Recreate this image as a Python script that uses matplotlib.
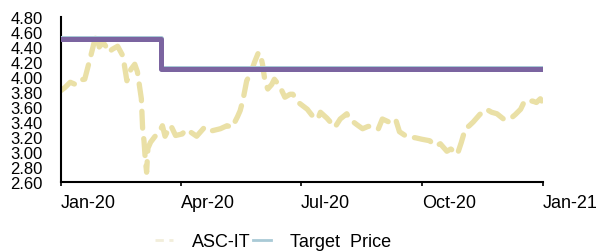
import numpy as np
import pandas as pd
import matplotlib
matplotlib.use("Agg")
import matplotlib.pyplot as plt
import matplotlib.dates as mdates
import matplotlib.transforms as mtransforms
from matplotlib.lines import Line2D

plt.rcParams['font.family'] = ['Liberation Sans', 'DejaVu Sans']

# prezzo ASC-IT (giorno dell'anno, valore)
price_days = [0, 3, 7, 11, 14, 18, 22, 25, 27, 29, 32, 34, 36, 39, 43, 47, 50, 53, 56, 58,
              61, 62, 63, 64, 65, 66, 68, 71, 75, 77, 79, 83, 84, 87, 92, 95, 98, 103, 109,
              114, 121, 126, 130, 134, 136, 138, 141, 144, 147, 150, 152, 153, 155, 157,
              160, 162, 166, 170, 174, 176, 181, 187, 191, 195, 197, 202, 208, 212, 217,
              219, 225, 229, 233, 237, 241, 244, 249, 254, 257, 263, 269, 274, 280, 283,
              285, 288, 293, 296, 301, 304, 307, 310, 313, 318, 323, 327, 331, 336, 341,
              345, 349, 352, 355, 358, 361, 364, 365]
price_vals = [3.82, 3.86, 3.93, 3.90, 3.96, 3.97, 4.24, 4.45, 4.57, 4.40, 4.46, 4.41, 4.33,
              4.37, 4.41, 4.28, 3.95, 4.10, 4.17, 4.07, 3.71, 3.30, 3.15, 2.90, 2.73, 3.05,
              3.13, 3.20, 3.28, 3.35, 3.21, 3.35, 3.33, 3.22, 3.24, 3.30, 3.27, 3.21, 3.33,
              3.28, 3.31, 3.35, 3.33, 3.47, 3.55, 3.68, 3.95, 4.05, 4.20, 4.33, 4.25, 4.17,
              3.93, 3.84, 3.90, 3.97, 3.88, 3.73, 3.77, 3.77, 3.65, 3.57, 3.48, 3.44, 3.53,
              3.45, 3.33, 3.44, 3.51, 3.44, 3.36, 3.31, 3.34, 3.35, 3.31, 3.44, 3.40, 3.44,
              3.27, 3.20, 3.19, 3.17, 3.15, 3.10, 3.08, 3.11, 3.01, 3.04, 2.97, 3.13, 3.31,
              3.35, 3.40, 3.50, 3.57, 3.53, 3.51, 3.44, 3.44, 3.50, 3.57, 3.68, 3.67, 3.68,
              3.66, 3.71, 3.68]

# target price
target_dates = ['2020-01-01', '2020-03-17', '2020-12-31']
target_vals = [4.50, 4.10, 4.10]

yticks = [2.60, 2.80, 3.00, 3.20, 3.40, 3.60, 3.80, 4.00, 4.20, 4.40, 4.60, 4.80]

start = pd.Timestamp('2020-01-01')
price_x = [start + pd.Timedelta(days=d) for d in price_days]
target_x = pd.to_datetime(target_dates)

fig = plt.figure(figsize=(6, 2.53), dpi=100)
ax = fig.add_axes([0.1017, 0.2767, 0.8033, 0.6522])

ax.plot(price_x, price_vals, color='#EAE0A6', lw=3.8, linestyle=(0, (3.2, 2.0)),
        dash_capstyle='round', solid_capstyle='round', zorder=2)
# bordo azzurro sottile sopra la linea viola
su = mtransforms.offset_copy(ax.transData, fig=fig, x=0, y=1.2, units='dots')
ax.plot(target_x, target_vals, color='#A9CAD6', lw=3.6, drawstyle='steps-post',
        transform=su, zorder=3)
ax.plot(target_x, target_vals, color='#7B64A0', lw=3.6, drawstyle='steps-post', zorder=4)

ax.set_ylim(2.6, 4.8)
ax.set_yticks(yticks)
ax.set_yticklabels(['%.2f' % v for v in yticks], fontsize=12)
ax.tick_params(axis='y', length=0, pad=13)

ax.set_xlim(pd.Timestamp('2020-01-01'), pd.Timestamp('2021-01-01'))
ax.xaxis.set_major_locator(mdates.MonthLocator(bymonth=[1, 4, 7, 10]))
ax.xaxis.set_major_formatter(mdates.DateFormatter('%b-%y'))
ax.tick_params(axis='x', length=3, width=1.2, labelsize=13, pad=6)
for lab in ax.get_xticklabels():
    lab.set_ha('left')

for s in ['top', 'right']:
    ax.spines[s].set_visible(False)
for s in ['left', 'bottom']:
    ax.spines[s].set_linewidth(1.5)
    ax.spines[s].set_color('black')

handles = [Line2D([], [], color='#F2EEDA', lw=2, linestyle=(0, (3, 2))),
           Line2D([], [], color='#A9CAD6', lw=2)]
fig.legend(handles, ['ASC-IT', 'Target  Price'], loc='upper left',
           bbox_to_anchor=(0.258, 0.074), ncol=2, frameon=False, fontsize=13,
           handlelength=1.0, columnspacing=0.15, handletextpad=1.05,
           borderaxespad=0, borderpad=0)

fig.savefig('out.png', dpi=100)
